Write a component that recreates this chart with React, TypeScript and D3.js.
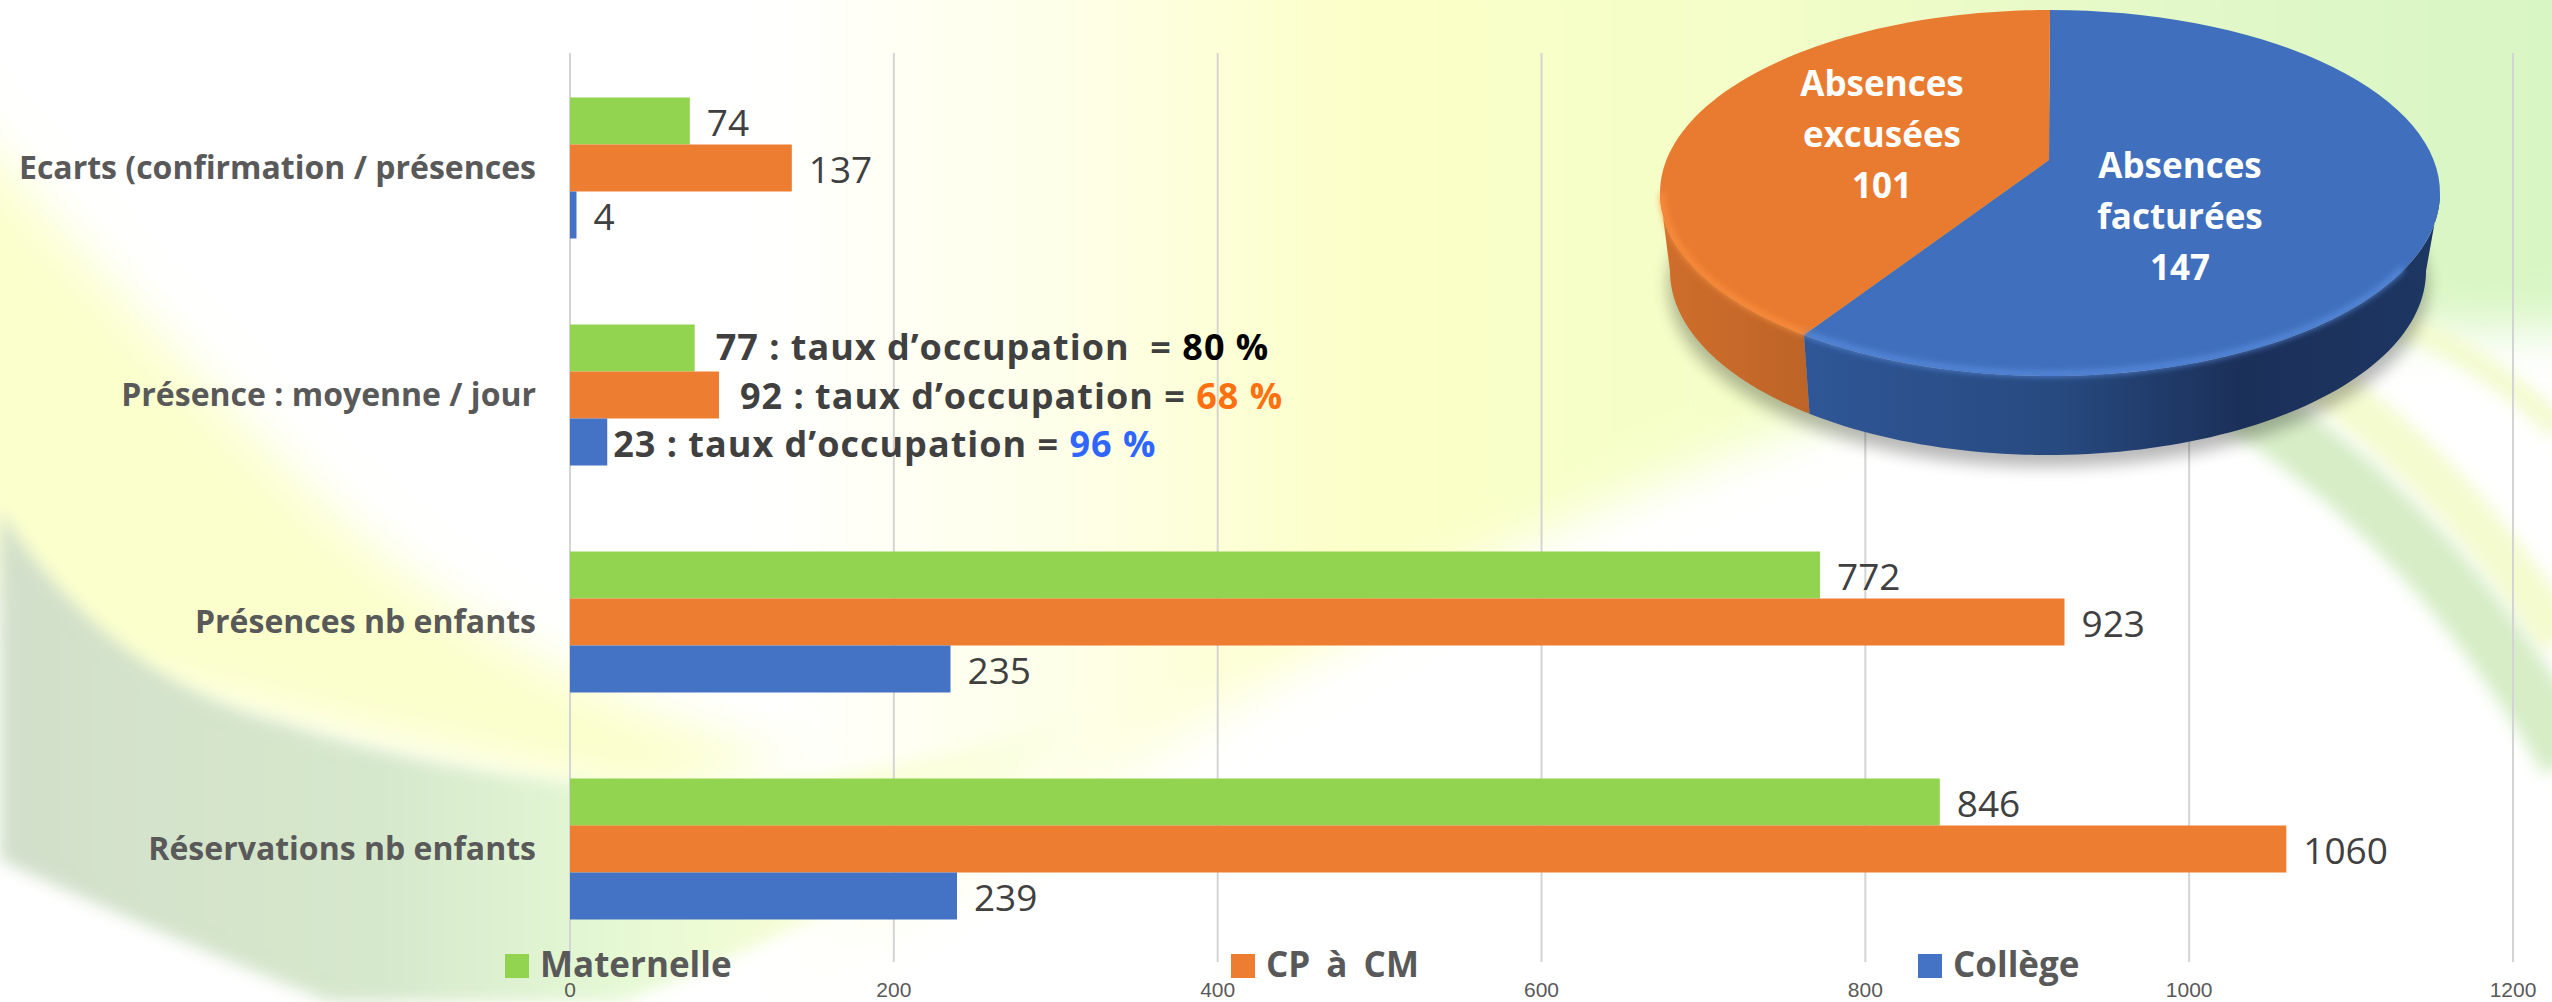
import React from "react";
import * as d3 from "d3";

const categories = ["Ecarts (confirmation / présences", "Présence : moyenne / jour", "Présences nb enfants", "Réservations nb enfants"];
const seriesNames = ["Maternelle", "CP à CM", "Collège"];
const maternelle = [74, 77, 772, 846];
const cpCm = [137, 92, 923, 1060];
const college = [4, 23, 235, 239];
const seriesColors = ["#92d34f", "#ed7d31", "#4472c4"];
const xTicks = [0, 200, 400, 600, 800, 1000, 1200];
const pieNames = [["Absences", "facturées", "147"], ["Absences", "excusées", "101"]];
const pieValues = [147, 101];
const pieColors = ["#4070bd", "#e97b30"];
const occupancyParts = [
  ["77 : taux d’occupation  = ", "80 %", "#000000"],
  ["92 : taux d’occupation = ", "68 %", "#ff7010"],
  ["23 : taux d’occupation = ", "96 %", "#2f66ff"],
];
const occupancyGap = [21, 21, 6];
const legendX = [505, 1231, 1918];

const W = 2552, H = 1002;
const FONT = "'Open Sans', sans-serif";
const x = d3.scaleLinear().domain([0, 1200]).range([570, 2513]);
const yBand = d3.scaleBand<string>().domain(categories).range([54.5, 962.5]);
const yInner = d3.scaleBand<string>().domain(seriesNames).range([-70.5, 70.5]);
const allSeries = [maternelle, cpCm, college];

// 3D pie geometry
const top = { cx: 2050, cy: 193, rx: 390, ry: 183 };
const bot = { cx: 2048, cy: 271, rx: 378, ry: 184 };
const hub = { x: 2049, y: 160 };
const skew = 0.1; // perspective shift of the slice border, radians
const arcs = d3.pie<number>().sort(null)(pieValues);
const onEl = (e: typeof top, t: number): [number, number] => [e.cx + e.rx * Math.sin(t), e.cy - e.ry * Math.cos(t)];
const line = d3.line();
const sample = (t0: number, t1: number, n = 80) => d3.range(n + 1).map((i) => t0 + ((t1 - t0) * i) / n);
const rimPts = (e: typeof top, t0: number, t1: number) => sample(t0, t1).map((t) => onEl(e, t));
const border = arcs[0].endAngle + skew;
const sliceTop = (t0: number, t1: number) => line([[hub.x, hub.y], ...rimPts(top, t0, t1)])! + "Z";
const wall = (t0: number, t1: number) => line([...rimPts(top, t0, t1), ...rimPts(bot, t1, t0)])! + "Z";

export default function App() {
  return (
    <svg width={W} height={H} viewBox={`0 0 ${W} ${H}`} style={{ position: "absolute", left: 0, top: 0, display: "block" }}>
      <defs>
        <filter id="b60" x="-30%" y="-30%" width="160%" height="160%"><feGaussianBlur stdDeviation="60" /></filter>
        <filter id="b30" x="-30%" y="-30%" width="160%" height="160%"><feGaussianBlur stdDeviation="25" /></filter>
        <filter id="b8" x="-30%" y="-30%" width="160%" height="160%"><feGaussianBlur stdDeviation="8" /></filter>
        <filter id="b3" x="-30%" y="-30%" width="160%" height="160%"><feGaussianBlur stdDeviation="3" /></filter>
        <linearGradient id="sage" x1="0" x2="1" y1="0" y2="0">
          <stop offset="0" stopColor="#d2dfca" />
          <stop offset="0.35" stopColor="#d6e8cc" />
          <stop offset="0.55" stopColor="#e4f8d4" />
          <stop offset="0.75" stopColor="#f8fed4" />
          <stop offset="1" stopColor="#fdffe8" />
        </linearGradient>
        <linearGradient id="topWash" gradientUnits="userSpaceOnUse" x1="760" x2="2552" y1="0" y2="0">
          <stop offset="0" stopColor="#ffffff" />
          <stop offset="0.18" stopColor="#feffe6" />
          <stop offset="0.33" stopColor="#fcffc8" />
          <stop offset="0.55" stopColor="#f4fec8" />
          <stop offset="0.8" stopColor="#e2f8c8" />
          <stop offset="1" stopColor="#d8f6c4" />
        </linearGradient>
        <linearGradient id="wallBlue" gradientUnits="userSpaceOnUse" x1="1806" x2="2430" y1="0" y2="0">
          <stop offset="0" stopColor="#2f5696" />
          <stop offset="0.4" stopColor="#274a80" />
          <stop offset="0.7" stopColor="#1b3059" />
          <stop offset="1" stopColor="#1d3662" />
        </linearGradient>
        <linearGradient id="wallOrange" gradientUnits="userSpaceOnUse" x1="1661" x2="1806" y1="0" y2="0">
          <stop offset="0" stopColor="#d06e2b" />
          <stop offset="1" stopColor="#bd6428" />
        </linearGradient>
        <clipPath id="page"><rect width={W} height={H} /></clipPath>
      </defs>

      <g clipPath="url(#page)">
        <rect width={W} height={H} fill="#ffffff" />
        {/* decorative backdrop */}
        <path d="M700 -60 L2620 -60 L2620 330 L2150 330 Q1600 450 1150 760 Q950 900 740 1040 L600 1040 L600 700Z" fill="url(#topWash)" filter="url(#b30)" />
        <path d="M-60 90 Q100 280 300 480 Q500 680 800 760 L640 800 Q280 722 110 680 Q30 620 -60 500Z" fill="#fbffcc" filter="url(#b30)" />
        <path d="M0 511 Q110 680 280 722 Q420 770 640 790 Q900 790 1100 700 Q950 880 620 1002 L330 1002 Q150 930 0 860Z" fill="url(#sage)" filter="url(#b8)" />
        <path d="M2230 330 Q2420 420 2560 640" fill="none" stroke="#f4fbcf" strokeWidth="46" filter="url(#b8)" />
        <path d="M2210 385 Q2420 500 2570 760" fill="none" stroke="#d6edc6" strokeWidth="60" filter="url(#b8)" />
        <path d="M2350 300 Q2480 350 2560 430" fill="none" stroke="#f3fbcf" strokeWidth="24" filter="url(#b8)" />

        {/* grid */}
        {xTicks.map((t) => (
          <line key={t} x1={x(t)} x2={x(t)} y1={53} y2={962} stroke="#d4d4d4" strokeWidth={2} />
        ))}
        {xTicks.map((t) => (
          <text key={t} x={x(t)} y={997} textAnchor="middle" fontFamily="'Liberation Sans', sans-serif" fontSize={21} fill="#595959">{t}</text>
        ))}

        {/* category labels */}
        {categories.map((c) => (
          <text key={c} x={536} y={yBand(c)! + yBand.bandwidth() / 2 + 11} textAnchor="end" fontFamily={FONT} fontWeight={700} fontSize={32} fill="#595959">{c}</text>
        ))}

        {/* bars */}
        {allSeries.map((vals, s) =>
          categories.map((c, i) => (
            <rect key={c + s} x={x(0)} y={yBand(c)! + yBand.bandwidth() / 2 + yInner(seriesNames[s])!} width={x(vals[i]) - x(0)} height={yInner.bandwidth()} fill={seriesColors[s]} />
          ))
        )}

        {/* data labels */}
        {allSeries.map((vals, s) =>
          categories.map((c, i) => {
            const cy = yBand(c)! + yBand.bandwidth() / 2 + yInner(seriesNames[s])! + yInner.bandwidth() / 2;
            if (i === 1) {
              const [txt, pct, col] = occupancyParts[s];
              return (
                <text key={c + s} x={x(vals[i]) + occupancyGap[s]} y={cy + 12 + (s === 2 ? 3 : s === 1 ? 2 : 0)} xmlSpace="preserve" fontFamily={FONT} fontWeight={700} fontSize={36} letterSpacing={1} fill="#404040" style={{ whiteSpace: "pre" }}>
                  {txt}<tspan fill={col}>{pct}</tspan>
                </text>
              );
            }
            return (
              <text key={c + s} x={x(vals[i]) + 17} y={cy + 15} fontFamily={FONT} fontSize={37} fill="#404040">{vals[i]}</text>
            );
          })
        )}

        {/* legend */}
        {seriesNames.map((n, s) => (
          <g key={n}>
            <rect x={legendX[s]} y={954} width={24} height={24} fill={seriesColors[s]} />
            <text x={legendX[s] + 35} y={977} fontFamily={FONT} fontWeight={700} fontSize={35} wordSpacing={s === 1 ? 7 : 0} fill="#595959">{n}</text>
          </g>
        ))}

        {/* 3D pie */}
        <ellipse cx={2048} cy={285} rx={380} ry={182} fill="#000000" opacity={0.28} filter="url(#b8)" />
        <path d={wall(Math.PI * 1.5, border)} fill="url(#wallOrange)" />
        <path d={wall(border, Math.PI / 2)} fill="url(#wallBlue)" />
        <path d={sliceTop(0, border)} fill={pieColors[0]} />
        <path d={sliceTop(border, Math.PI * 2)} fill={pieColors[1]} />
        <path d={line(rimPts({ ...top, ry: top.ry - 2, rx: top.rx - 2 }, border, 2.0))!} fill="none" stroke="#5f93e8" strokeWidth={4} filter="url(#b3)" />
        <path d={line(rimPts({ ...top, ry: top.ry - 2, rx: top.rx - 2 }, Math.PI * 1.5, border))!} fill="none" stroke="#ff9440" strokeWidth={4} filter="url(#b3)" />
        {pieNames.map((lines, p) =>
          lines.map((l, j) => (
            <text key={p + l} x={p === 0 ? 2180 : 1882} y={(p === 0 ? 178 : 96) + j * 51} textAnchor="middle" fontFamily={FONT} fontWeight={700} fontSize={35} fill="#ffffff">{l}</text>
          ))
        )}
      </g>
    </svg>
  );
}
